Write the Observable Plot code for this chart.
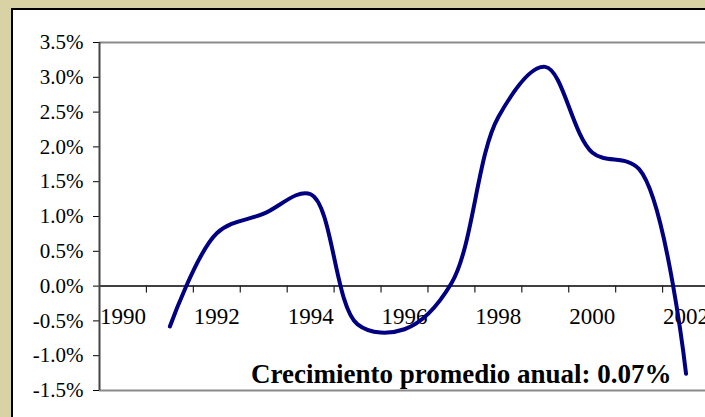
<!DOCTYPE html>
<html>
<head>
<meta charset="utf-8">
<script src="https://cdn.jsdelivr.net/npm/d3@7"></script>
<script src="https://cdn.jsdelivr.net/npm/@observablehq/plot@0.6"></script>
<style>
  html, body { margin: 0; padding: 0; overflow: hidden; }
  body { background: #d9d2a4; width: 705px; height: 417px; position: relative; }
  #box { position: absolute; left: 11px; top: 8px; width: 740px; height: 440px;
         background: #fff; border: 2px solid #000; }
  #chart { position: absolute; left: 0; top: 0; width: 720px; height: 417px; }
  #chart svg { overflow: visible; max-width: none !important; width: 720px; height: 417px; }
</style>
</head>
<body>
<div id="box"></div>
<div id="chart"></div>
<script>
const years  = [1991, 1992, 1993, 1994, 1995, 1996, 1997, 1998, 1999, 2000, 2001, 2002];
const growth = [-0.58, 0.76, 1.04, 1.32, -0.55, -0.62, 0.04, 2.43, 3.15, 1.92, 1.68, -1.26];
const yTicks = [-1.5, -1.0, -0.5, 0.0, 0.5, 1.0, 1.5, 2.0, 2.5, 3.0, 3.5];
const xLabelYears = [1990, 1992, 1994, 1996, 1998, 2000, 2002];
const categoryYears = [1990, 1991, 1992, 1993, 1994, 1995, 1996, 1997, 1998, 1999, 2000, 2001, 2002];
const annotation = "Crecimiento promedio anual: 0.07%";

const xDomain = [categoryYears[0] - 0.5, categoryYears[categoryYears.length - 1] + 0.5];
const yDomain = [yTicks[0], yTicks[yTicks.length - 1]];
const boundaries = categoryYears.slice(1).map(y => y - 0.5);
const data = years.map((year, i) => ({year, value: growth[i]}));
const font = "'Liberation Serif', 'Times New Roman', serif";

const chart = Plot.plot({
  width: 720,
  height: 417,
  marginLeft: 99,
  marginRight: 11,
  marginTop: 42,
  marginBottom: 27,
  style: {fontFamily: font, fontSize: "21px", color: "#000", background: "transparent", maxWidth: "none"},
  x: {domain: xDomain, axis: null},
  y: {domain: yDomain, axis: "left", ticks: yTicks, tickSize: 6, tickPadding: 10,
      tickFormat: d => d.toFixed(1) + "%", label: null},
  marks: [
    Plot.ruleY([yDomain[1], yDomain[0]], {stroke: "#8a8a8a", strokeWidth: 2}),
    Plot.ruleY([0], {stroke: "#000", strokeWidth: 1.5}),
    Plot.ruleX(boundaries, {y1: () => 0, y2: () => 0, insetBottom: -7, stroke: "#222", strokeWidth: 1.2}),
    Plot.ruleX([xDomain[0]], {y1: yDomain[0], y2: yDomain[1], stroke: "#444", strokeWidth: 2}),
    Plot.text(xLabelYears, {x: d => d, y: () => 0, text: d => String(d), dy: 31,
      fontSize: 23, fontFamily: font, fill: "#000"}),
    Plot.text([annotation], {frameAnchor: "bottom-right", dx: -38, dy: -8, lineAnchor: "bottom",
      fontSize: 27, fontWeight: "bold", fontFamily: font, fill: "#000"}),
    Plot.line(data, {x: "year", y: "value", curve: "catmull-rom", stroke: "#000080", strokeWidth: 4})
  ]
});
document.getElementById("chart").appendChild(chart);
</script>
</body>
</html>
